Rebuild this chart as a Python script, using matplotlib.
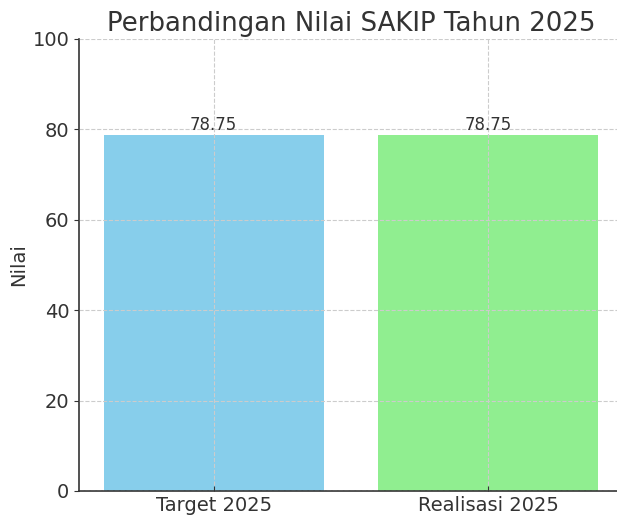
import matplotlib.pyplot as plt

kategori = ['Target 2025', 'Realisasi 2025']
nilai = [78.75, 78.75]
warna = ['#87CEEB', '#90EE90']

teks = '#333333'

fig = plt.figure(figsize=(6.17, 5.18), dpi=100)
ax = fig.add_axes([79 / 617, 27 / 518, 544 / 617, 452 / 518])

bars = ax.bar(kategori, nilai, color=warna, width=0.8)
for b, v in zip(bars, nilai):
    ax.text(b.get_x() + b.get_width() / 2, v + 0.2, f'{v:.2f}',
            ha='center', va='bottom', fontsize=12, color=teks)

ax.set_ylim(0, 100)
ax.set_xlim(-0.49, 1.49)
ax.set_title('Perbandingan Nilai SAKIP Tahun 2025', fontsize=18.7, color=teks, pad=6)
ax.set_ylabel('Nilai', fontsize=14, color=teks, labelpad=3)

ax.grid(True, linestyle='--', color='#cccccc', linewidth=0.8)
ax.set_axisbelow(False)
for s in ['top', 'right']:
    ax.spines[s].set_visible(False)
for s in ['left', 'bottom']:
    ax.spines[s].set_color(teks)
    ax.spines[s].set_linewidth(1.2)
ax.tick_params(axis='y', direction='out', labelsize=14, colors=teks)
ax.tick_params(axis='x', direction='in', labelsize=14, colors=teks)

fig.savefig('out.png', dpi=100)
